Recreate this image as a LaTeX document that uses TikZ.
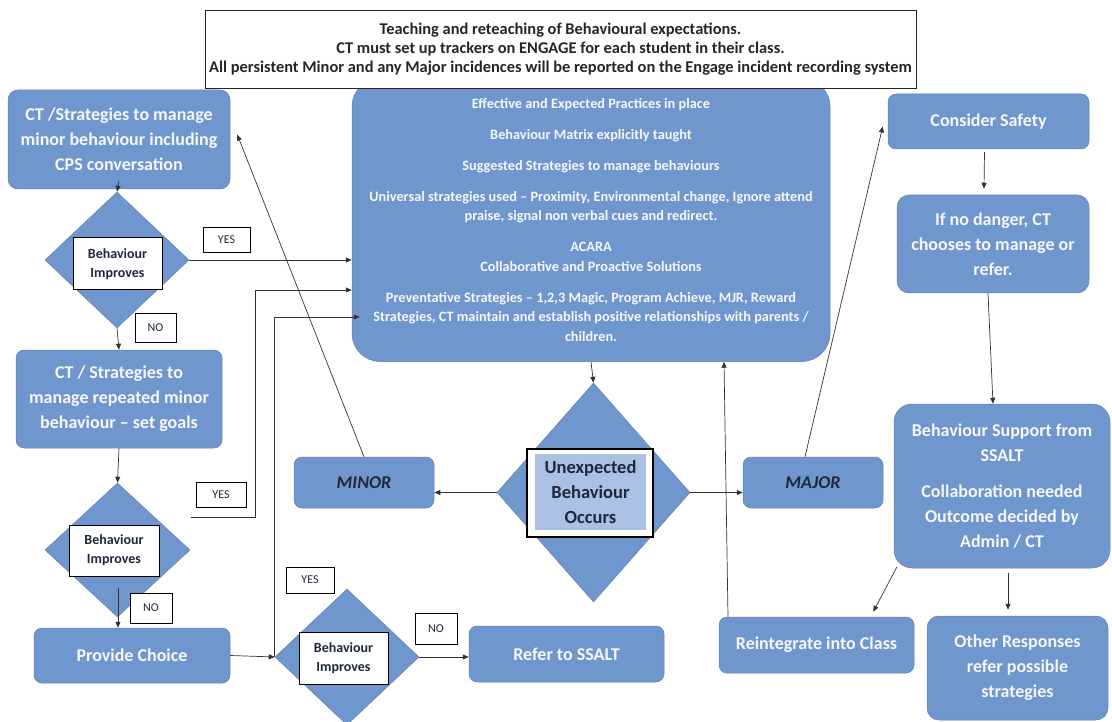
\documentclass[tikz,border=0pt]{standalone}
\usepackage{fontspec}
\setmainfont{Carlito}
\usetikzlibrary{shapes.geometric,arrows.meta,calc}

\definecolor{flowblue}{RGB}{112,151,205}
\definecolor{paleblue}{RGB}{170,193,228}
\definecolor{darkink}{RGB}{30,40,60}
\definecolor{paleink}{RGB}{245,247,251}

\tikzset{every picture/.style={line width=0.75pt}}
\tikzset{
  bluebox/.style={fill=flowblue, draw=flowblue!85!black, line width=0.5pt, rounded corners=8pt, text=paleink, font=\fontsize{18}{25}\selectfont\bfseries, align=center, inner sep=0pt},
  decision/.style={diamond, fill=flowblue, draw=flowblue!85!black, line width=0.5pt, inner sep=0pt},
  improvebox/.style={fill=white, draw=black, line width=1pt, text=darkink, font=\fontsize{14}{19}\selectfont\bfseries, align=center, minimum width=89pt, minimum height=52pt, inner sep=0pt},
  answer/.style={fill=white, draw=black, line width=0.8pt, text=darkink, font=\fontsize{12}{14}\selectfont, inner sep=0pt},
  flow/.style={draw=black!80, line width=0.7pt, -{Triangle[length=6pt,width=5pt]}}
}

\begin{document}
\begin{tikzpicture}[x=1pt,y=1pt,yscale=-1,xscale=1]
\useasboundingbox (0,0) rectangle (1112,722);

%Shape: Rounded Rect - practices (under the top box)
\node[bluebox, rounded corners=28pt, minimum width=478pt, minimum height=283pt, font=\fontsize{14.3}{19.5}\selectfont\bfseries] (practices) at (591,220) {Effective and Expected Practices in place\\[11.5pt]
Behaviour Matrix explicitly taught\\[11.5pt]
Suggested Strategies to manage behaviours\\[11.5pt]
Universal strategies used – Proximity, Environmental change, Ignore attend\\
praise, signal non verbal cues and redirect.\\[11.5pt]
ACARA\\
Collaborative and Proactive Solutions\\[11.5pt]
Preventative Strategies – 1,2,3 Magic, Program Achieve, MJR, Reward\\
Strategies, CT maintain and establish positive relationships with parents /\\
children.};
%Shape: Rectangle - expectations
\node[draw=black!85, line width=0.8pt, fill=white, minimum width=711pt, minimum height=78pt, align=center, text=black!85, font=\fontsize{16.4}{19}\selectfont\bfseries] (expect) at (560.5,49) {Teaching and reteaching of Behavioural expectations.\\
CT must set up trackers on ENGAGE for each student in their class.\\
All persistent Minor and any Major incidences will be reported on the Engage incident recording system};

%Left column
\node[bluebox, rounded corners=10pt, minimum width=222pt, minimum height=99pt] (minormanage) at (119,139.5) {CT /Strategies to manage\\minor behaviour including\\CPS conversation};
\node[decision, minimum width=144pt, minimum height=136pt] (improve1) at (117,260) {};
\node[improvebox] (improve1text) at (117.5,264) {Behaviour\\Improves};
\node[answer, minimum width=47pt, minimum height=25pt] (yes1) at (226.5,239.5) {YES};
\node[answer, minimum width=41pt, minimum height=29pt] (no1) at (155.5,327.5) {NO};
\node[bluebox, minimum width=206pt, minimum height=98pt] (repeatmanage) at (119,399) {CT / Strategies to\\manage repeated minor\\behaviour – set goals};
\node[decision, minimum width=145pt, minimum height=134pt] (improve2) at (117.5,550) {};
\node[improvebox, minimum width=90pt, minimum height=51pt] (improve2text) at (114,550.5) {Behaviour\\Improves};
\node[answer, minimum width=50pt, minimum height=25pt] (yes2) at (221,494.5) {YES};
\node[answer, minimum width=42pt, minimum height=30pt] (no2) at (151,608) {NO};
\node[bluebox, minimum width=196pt, minimum height=55pt] (choice) at (132,655.5) {Provide Choice};
\node[decision, minimum width=144pt, minimum height=136pt] (improve3) at (347,657) {};
\node[improvebox] (improve3text) at (343.5,658) {Behaviour\\Improves};
\node[answer, minimum width=48pt, minimum height=26pt] (yes3) at (310,580) {YES};
\node[answer, minimum width=42pt, minimum height=31pt] (no3) at (436,628.5) {NO};
\node[bluebox, minimum width=195pt, minimum height=56pt] (refer) at (566.5,654) {Refer to SSALT};

%Middle
\node[bluebox, minimum width=140pt, minimum height=51pt, text=darkink, font=\fontsize{18}{22}\selectfont\bfseries\itshape] (minor) at (364,482.5) {MINOR};
\node[decision, minimum width=193pt, minimum height=219pt] (unexpected) at (593.5,492.5) {};
\node[fill=white, draw=black, line width=1.2pt, minimum width=126pt, minimum height=88pt] (unexpectedframe) at (590,493) {};
\node[fill=paleblue, minimum width=111pt, minimum height=76pt, inner sep=0pt, align=center, text=darkink, font=\fontsize{18.5}{25}\selectfont\bfseries] (unexpectedtext) at (590.5,492) {Unexpected\\Behaviour\\Occurs};
\node[bluebox, minimum width=140pt, minimum height=51pt, text=darkink, font=\fontsize{18}{22}\selectfont\bfseries\itshape] (major) at (813,482.5) {MAJOR};

%Right column
\node[bluebox, minimum width=201pt, minimum height=55pt] (safety) at (988.5,121.5) {Consider Safety};
\node[bluebox, rounded corners=12pt, minimum width=192pt, minimum height=98pt] (nodanger) at (993,244) {If no danger, CT\\chooses to manage or\\refer.};
\node[bluebox, rounded corners=18pt, minimum width=216pt, minimum height=164pt] (support) at (1002,486) {Behaviour Support from\\SSALT\\[11pt]Collaboration needed\\Outcome decided by\\Admin / CT};
\node[bluebox, minimum width=195pt, minimum height=56pt] (reintegrate) at (816.5,645) {Reintegrate into Class};
\node[bluebox, rounded corners=12pt, minimum width=181pt, minimum height=104pt] (other) at (1017.5,668) {Other Responses\\refer possible\\strategies};

%Straight Lines
\draw[flow] ($(minormanage.south)+(0,-8)$) -- (improve1.north);
\draw[flow] (improve1.east) -- (improve1.east -| practices.west);
\draw[flow] (improve1.south) -- (repeatmanage.north);
\draw[flow] (repeatmanage.south) -- (improve2.north);
\draw[flow] ($(improve2text.south)+(4,11)$) -- ($(choice.north)+(-14,0)$);
\draw[flow] ($(improve2.east)+(1,-33)$) -| ($(practices.west)+(-96,70)$) -- ($(practices.west)+(0,70)$);
\draw[flow] (choice.east) -- (improve3.west);
\draw[flow] (improve3.west) |- ($(practices.west)+(8,97)$);
\draw[flow] (improve3.east) -- (improve3.east -| refer.west);
\draw[flow] (practices.south) -- (unexpected.north);
\draw[flow] (unexpected.west) -- (unexpected.west -| minor.east);
\draw[flow] (unexpected.east) -- (unexpected.east -| major.west);
\draw[flow] (minor.north) -- ($(minormanage.east)+(7,-5)$);
\draw[flow] ($(major.north)+(-8,0)$) -- ($(safety.west)+(-5,5)$);
\draw[flow] ($(safety.south)+(-4,3)$) -- ($(nodanger.north)+(-9,-6)$);
\draw[flow] ($(nodanger.south)+(-5,0)$) -- ($(support.north)+(-9,0)$);
\draw[flow] ($(support.south west)+(3,-1)$) -- ($(reintegrate.north east)+(-41,-5)$);
\draw[flow] ($(support.south)+(6,5)$) -- ($(other.north)+(-9.5,-6)$);
\draw[flow] ($(reintegrate.north)+(-88.5,0)$) -- ($(practices.south)+(133,0)$);

\end{tikzpicture}
\end{document}
